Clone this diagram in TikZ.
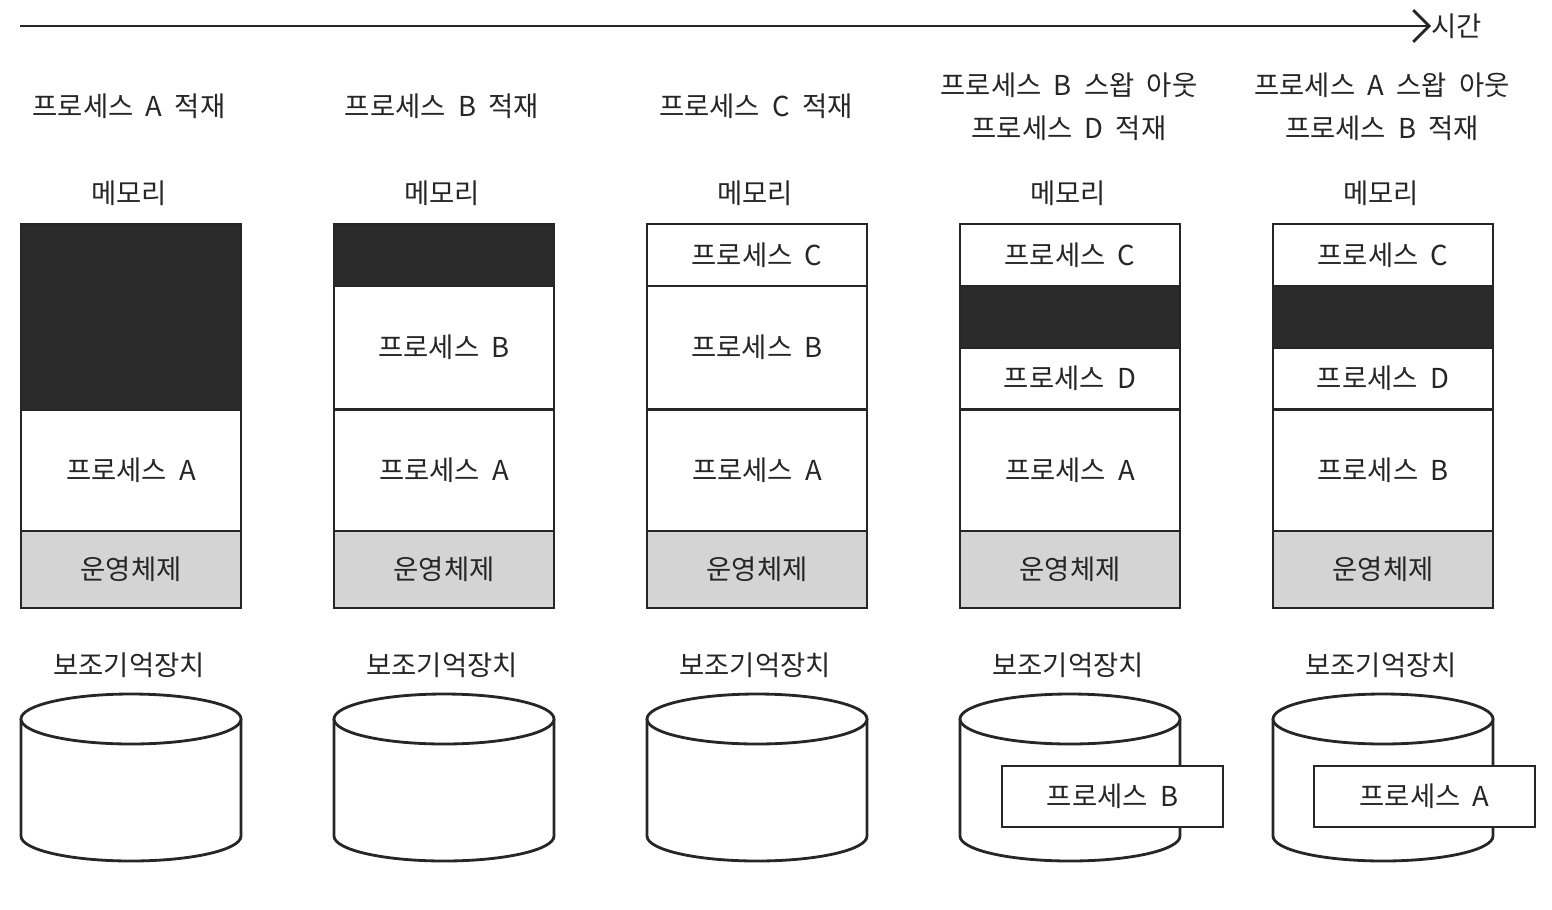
\documentclass[tikz,border=0pt]{standalone}
\usepackage{fontspec}
\newfontfamily\krfont[WordSpace=2]{Noto Sans CJK KR}
\usetikzlibrary{arrows.meta}
\definecolor{blockcol}{HTML}{2B2B2B}
\definecolor{oscol}{HTML}{D4D4D4}
\definecolor{ink}{HTML}{262626}
\newcommand\lblfont{\krfont\fontsize{7.8}{9.5}\selectfont}
\tikzset{
  seg/.style={draw=ink, line width=0.8pt, minimum width=2.2cm, inner sep=0pt, fill=white, font=\lblfont, text=ink},
  blk/.style={seg, fill=blockcol},
  ossec/.style={seg, fill=oscol},
  lbl/.style={font=\lblfont, inner sep=0pt, text=ink, align=center},
  cyl/.style={draw=ink, line width=0.8pt, fill=white},
}
\begin{document}
\begin{tikzpicture}[x=0.01cm, y=-0.01cm]
\useasboundingbox (0,0) rectangle (1552,909);

% timeline
\coordinate (tstart) at (20,26);
\node[lbl, anchor=west] (time) at (1431,26) {시간};
\draw[ink, line width=0.8pt, -{Straight Barb[length=4.5pt,width=9pt,line width=0.8pt]}] (tstart) -- (time.west);

% titles
\node[lbl] (t1) at (129,106) {프로세스 A 적재};
\node[lbl] (t2) at (442,106) {프로세스 B 적재};
\node[lbl] (t3) at (756,106) {프로세스 C 적재};
\node[lbl] (t4a) at (1069,85) {프로세스 B 스왑 아웃};
\node[lbl] (t4b) at (1069,128) {프로세스 D 적재};
\node[lbl] (t5a) at (1382,85) {프로세스 A 스왑 아웃};
\node[lbl] (t5b) at (1382,128) {프로세스 B 적재};

% memory labels and disks
\foreach \i/\cx in {1/131,2/444,3/757,4/1070,5/1383}{
  \node[lbl] (mem\i) at (\cx-2,193) {메모리};
  \node[lbl] (aux\i) at (\cx-2,665) {보조기억장치};
  \draw[cyl] (\cx-110,719) -- (\cx-110,836) arc (180:0:110 and 25) -- (\cx+110,719);
  \draw[cyl] (\cx,719) ellipse (110 and 25);
}

% column 1
\node[blk, minimum height=1.86cm] (c1free) at (131,317) {};
\node[seg, minimum height=1.21cm] (c1a) at (131,470.5) {프로세스 A};
\node[ossec, minimum height=0.77cm] (c1os) at (131,569.5) {운영체제};

% column 2
\node[blk, minimum height=0.62cm] (c2free) at (444,255) {};
\node[seg, minimum height=1.23cm] (c2b) at (444,347.5) {프로세스 B};
\node[seg, minimum height=1.22cm] (c2a) at (444,470.5) {프로세스 A};
\node[ossec, minimum height=0.77cm] (c2os) at (444,569.5) {운영체제};

% column 3
\node[seg, minimum height=0.62cm] (c3c) at (757,255) {프로세스 C};
\node[seg, minimum height=1.23cm] (c3b) at (757,347.5) {프로세스 B};
\node[seg, minimum height=1.22cm] (c3a) at (757,470.5) {프로세스 A};
\node[ossec, minimum height=0.77cm] (c3os) at (757,569.5) {운영체제};

% column 4
\node[seg, minimum height=0.62cm] (c4c) at (1070,255) {프로세스 C};
\node[blk, minimum height=0.62cm] (c4free) at (1070,317) {};
\node[seg, minimum height=0.61cm] (c4d) at (1070,378.5) {프로세스 D};
\node[seg, minimum height=1.22cm] (c4a) at (1070,470.5) {프로세스 A};
\node[ossec, minimum height=0.77cm] (c4os) at (1070,569.5) {운영체제};

% column 5
\node[seg, minimum height=0.62cm] (c5c) at (1383,255) {프로세스 C};
\node[blk, minimum height=0.62cm] (c5free) at (1383,317) {};
\node[seg, minimum height=0.61cm] (c5d) at (1383,378.5) {프로세스 D};
\node[seg, minimum height=1.22cm] (c5b) at (1383,470.5) {프로세스 B};
\node[ossec, minimum height=0.77cm] (c5os) at (1383,569.5) {운영체제};

% swapped-out processes
\node[seg, minimum width=2.21cm, minimum height=0.61cm] (sw4) at (1112.5,796.5) {프로세스 B};
\node[seg, minimum width=2.21cm, minimum height=0.61cm] (sw5) at (1424.5,796.5) {프로세스 A};
\end{tikzpicture}
\end{document}
